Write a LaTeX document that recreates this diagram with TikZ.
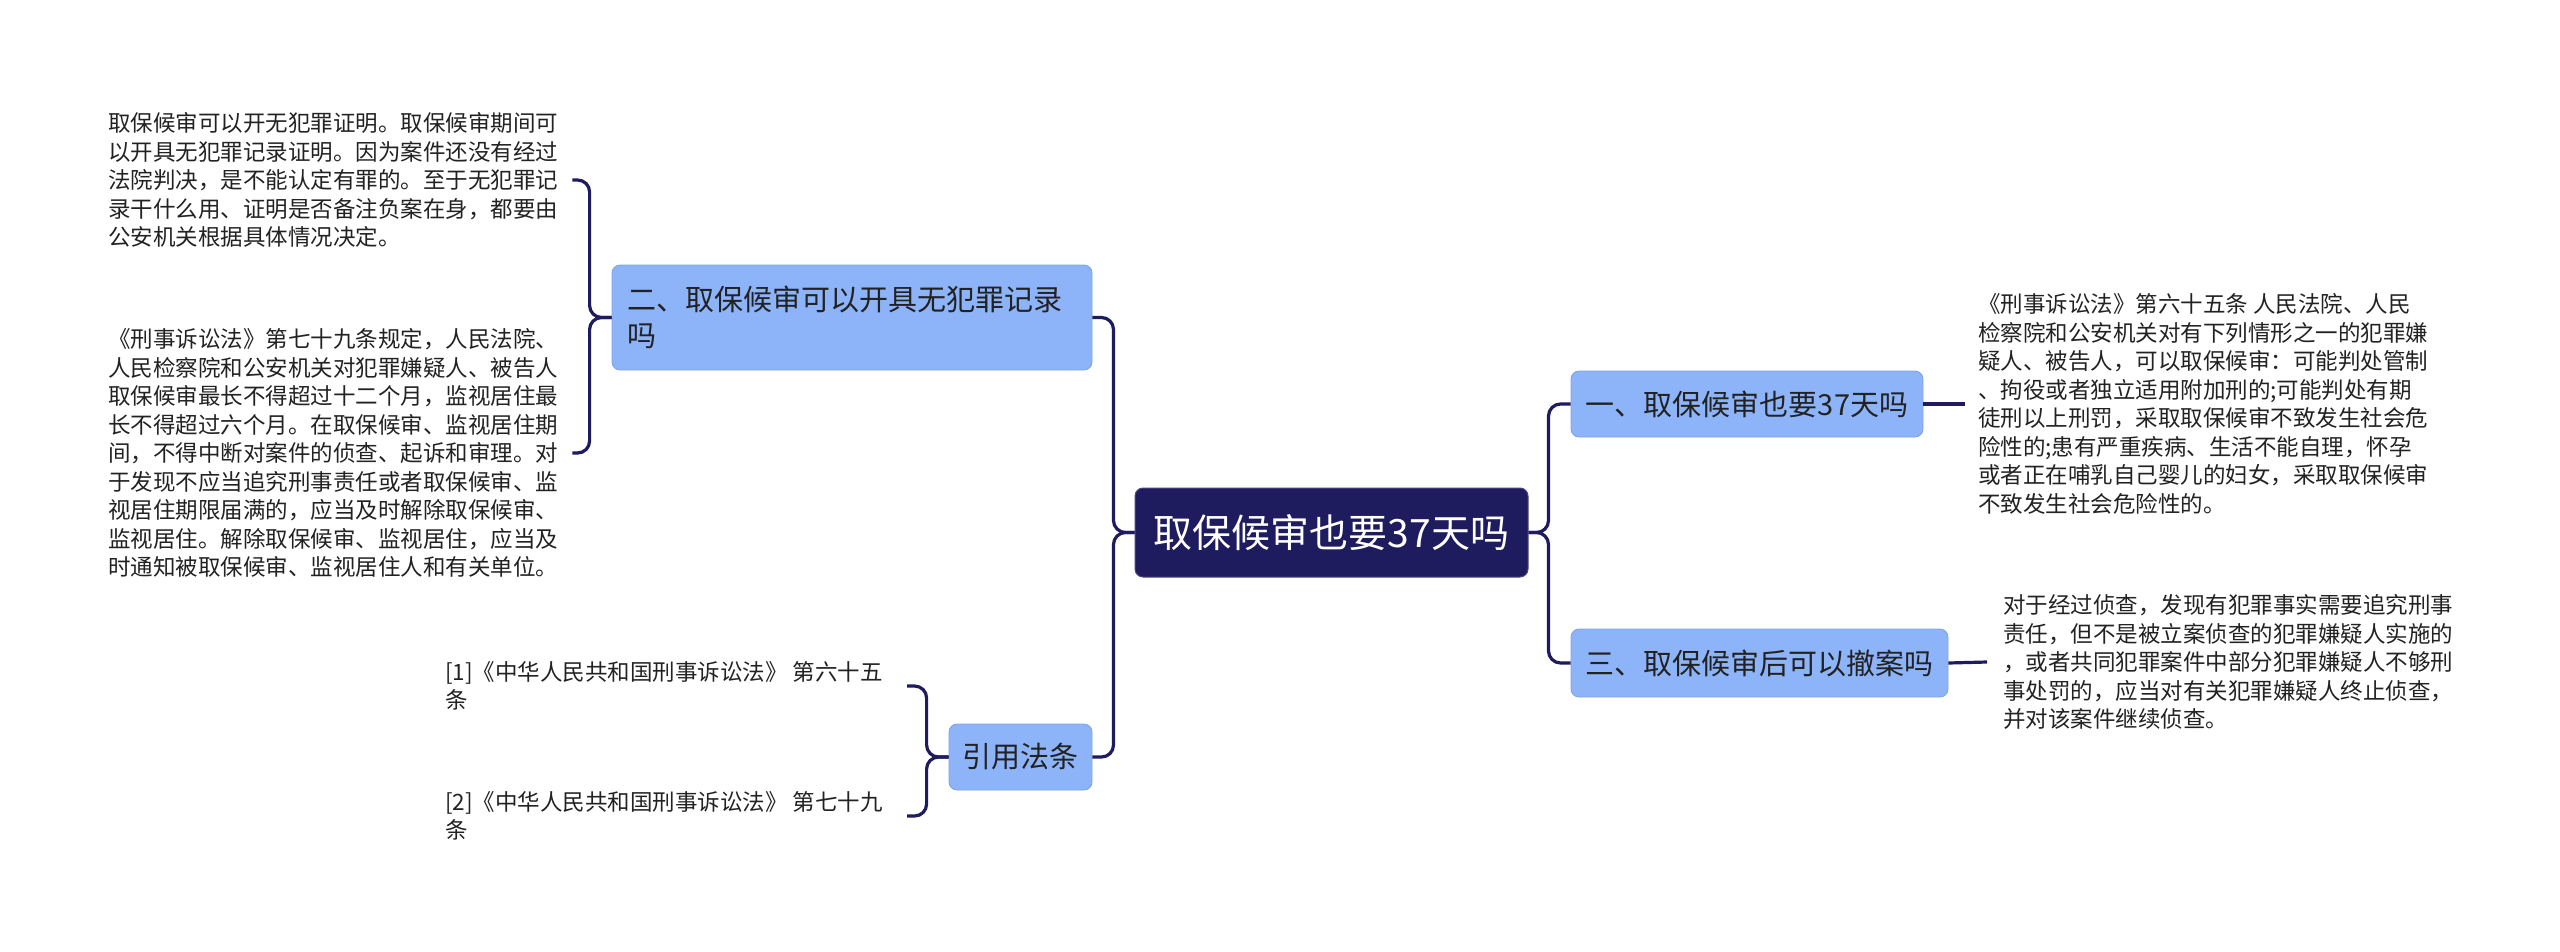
\documentclass[tikz,border=0pt]{standalone}
\usepackage{fontspec}
\newfontfamily\cjk{Noto Sans CJK SC}
\definecolor{mapnavy}{HTML}{1E1B5E}
\definecolor{lblue}{HTML}{8DB4F9}
\definecolor{txt}{HTML}{222222}
\begin{document}
\begin{tikzpicture}[x=1pt,y=-1pt,
  conn/.style={draw=mapnavy,line width=3.2pt,rounded corners=12pt},
  rootbox/.style={fill=mapnavy,draw=mapnavy!80!white,line width=1pt,rounded corners=8pt,text=white,inner sep=0pt,minimum width=393pt,minimum height=89pt,font={\cjk\fontsize{39}{46}\selectfont}},
  branch/.style={fill=lblue,draw=lblue!90!black,line width=0.8pt,rounded corners=8pt,text=txt,inner sep=0pt,minimum height=66pt,font={\cjk\fontsize{29}{36}\selectfont}},
  leaf/.style={text=txt,inner sep=0pt,align=left,anchor=west,font={\cjk\fontsize{22.5}{28.5}\selectfont}},
]
\useasboundingbox[fill=white] (0,0) rectangle (2560,951);

\node[rootbox] (root) at (1331.5,532.5) {取保候审也要37天吗};
\node[branch,minimum width=352pt] (b1) at (1747,404) {一、取保候审也要37天吗};
\node[branch,minimum width=377pt,minimum height=68pt] (b3) at (1759.5,663) {三、取保候审后可以撤案吗};
\node[branch,minimum width=143pt] (cite) at (1020.5,757) {引用法条};
\node[branch,minimum height=105pt,inner xsep=15pt,text width=450pt,align=left] (b2) at (852,317.5) {二、取保候审可以开具无犯罪记录\\吗};

\node[leaf] (tA) at (108,180) {取保候审可以开无犯罪证明。取保候审期间可\\以开具无犯罪记录证明。因为案件还没有经过\\法院判决，是不能认定有罪的。至于无犯罪记\\录干什么用、证明是否备注负案在身，都要由\\公安机关根据具体情况决定。};
\node[leaf] (tB) at (108,453) {《刑事诉讼法》第七十九条规定，人民法院、\\人民检察院和公安机关对犯罪嫌疑人、被告人\\取保候审最长不得超过十二个月，监视居住最\\长不得超过六个月。在取保候审、监视居住期\\间，不得中断对案件的侦查、起诉和审理。对\\于发现不应当追究刑事责任或者取保候审、监\\视居住期限届满的，应当及时解除取保候审、\\监视居住。解除取保候审、监视居住，应当及\\时通知被取保候审、监视居住人和有关单位。};
\node[leaf] (r1) at (445,686) {[1]《中华人民共和国刑事诉讼法》 第六十五\\条};
\node[leaf] (r2) at (445,816) {[2]《中华人民共和国刑事诉讼法》 第七十九\\条};
\node[leaf] (tR1) at (1978,404) {《刑事诉讼法》第六十五条 人民法院、人民\\检察院和公安机关对有下列情形之一的犯罪嫌\\疑人、被告人，可以取保候审：可能判处管制\\、拘役或者独立适用附加刑的;可能判处有期\\徒刑以上刑罚，采取取保候审不致发生社会危\\险性的;患有严重疾病、生活不能自理，怀孕\\或者正在哺乳自己婴儿的妇女，采取取保候审\\不致发生社会危险性的。};
\node[leaf] (tR3) at (2003,662) {对于经过侦查，发现有犯罪事实需要追究刑事\\责任，但不是被立案侦查的犯罪嫌疑人实施的\\，或者共同犯罪案件中部分犯罪嫌疑人不够刑\\事处罚的，应当对有关犯罪嫌疑人终止侦查，\\并对该案件继续侦查。};

\draw[conn] (root.west) -- ++(-21,0) |- (b2.east);
\draw[conn] (root.west) -- ++(-21,0) |- (cite.east);
\draw[conn] (root.east) -- ++(20,0) |- (b1.west);
\draw[conn] (root.east) -- ++(20,0) |- (b3.west);
\draw[conn] (b2.west) -- ++(-22,0) |- ([xshift=14pt]tA.east);
\draw[conn] (b2.west) -- ++(-22,0) |- ([xshift=14pt]tB.east);
\draw[conn] (cite.west) -- ++(-22,0) |- ([xshift=24pt]r1.east);
\draw[conn] (cite.west) -- ++(-22,0) |- ([xshift=24pt]r2.east);
\draw[conn] (b1.east) -- ([xshift=-13pt]tR1.west);
\draw[conn] (b3.east) -- ([xshift=-16pt]tR3.west);
\end{tikzpicture}
\end{document}
